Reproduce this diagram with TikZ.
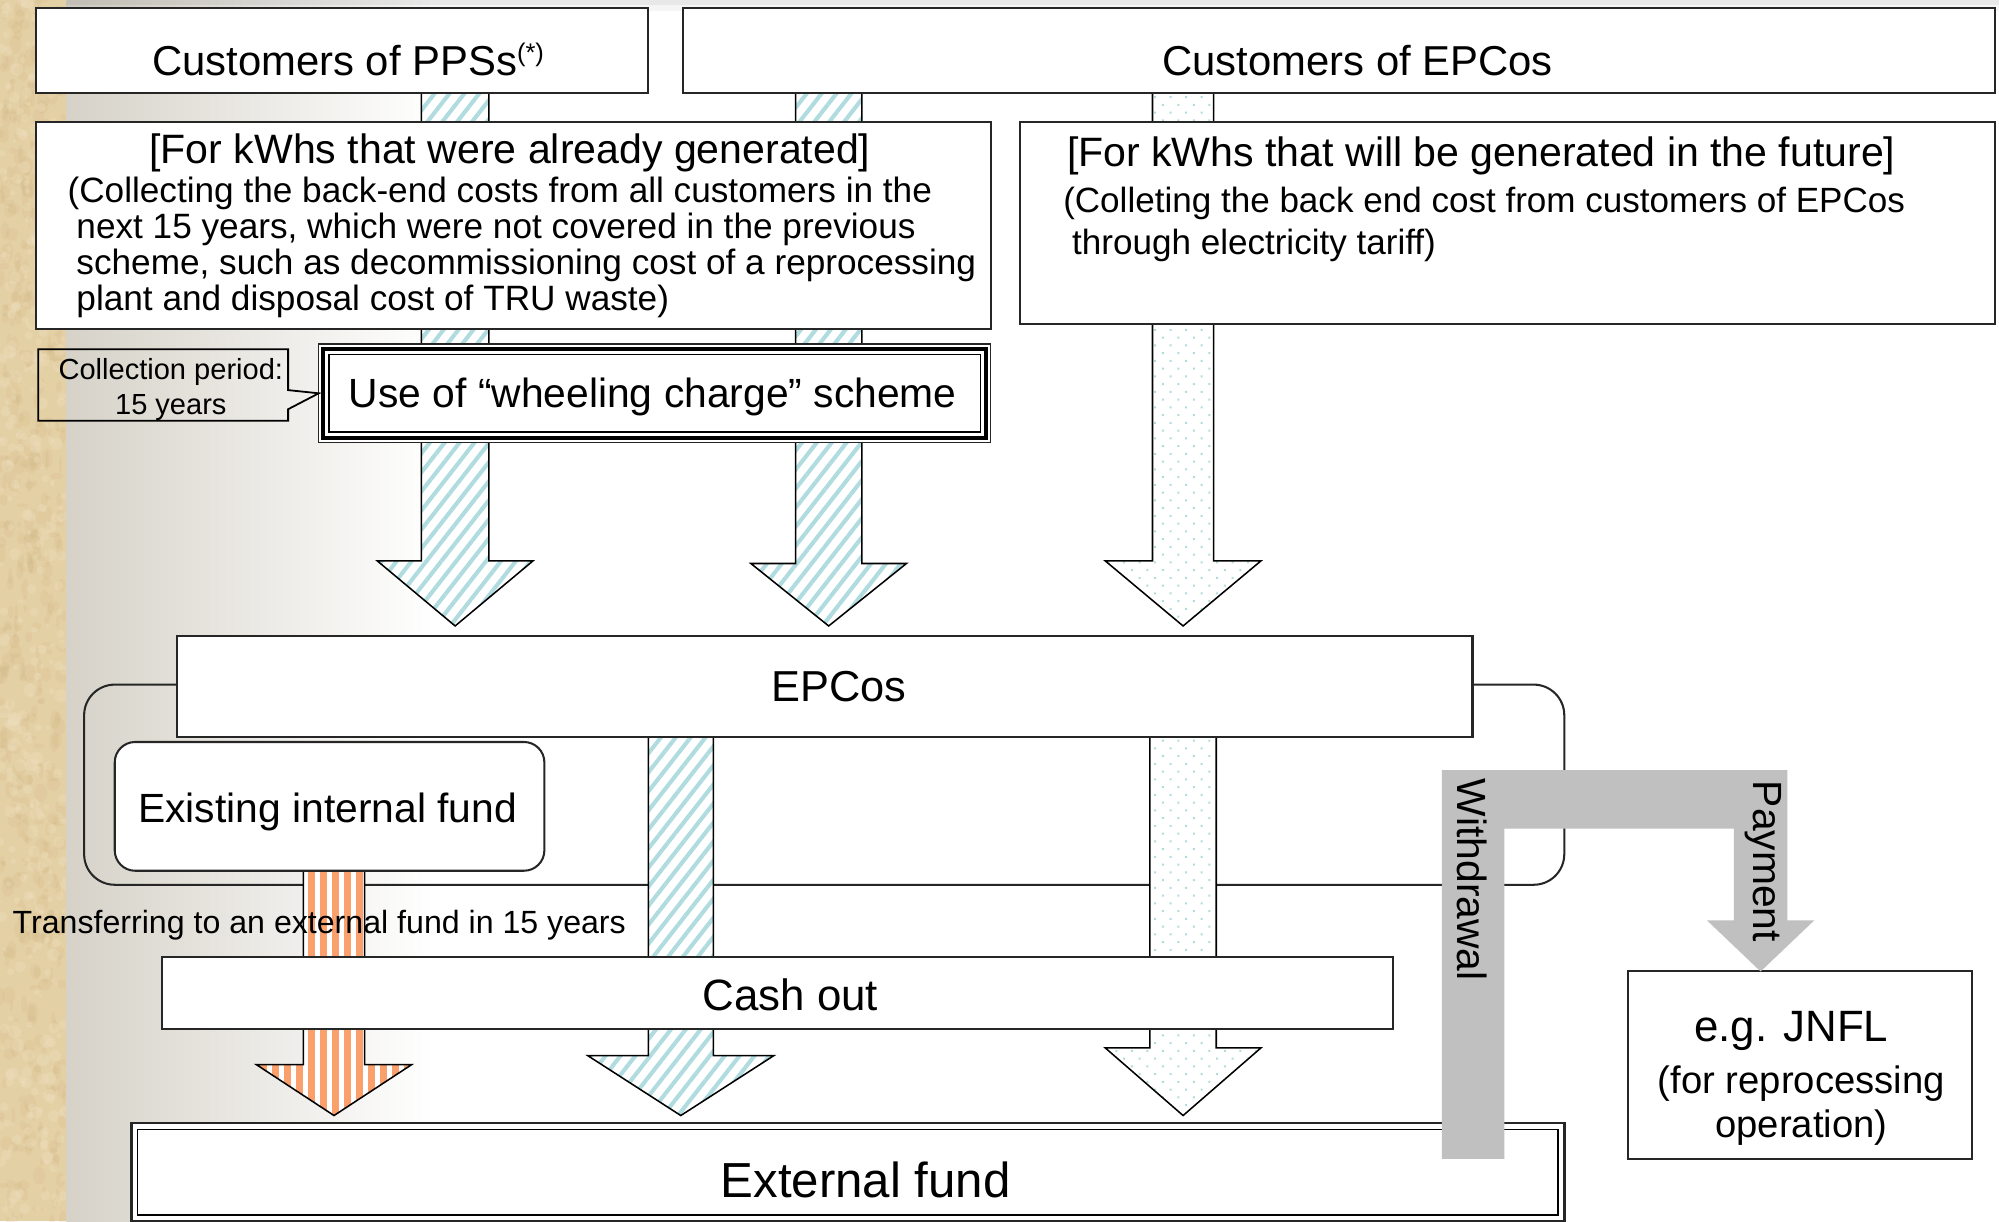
\documentclass[tikz,border=0pt]{standalone}
\usepackage{fontspec}
\setmainfont{Liberation Sans}
\usetikzlibrary{patterns.meta,fit,calc}

\definecolor{hatchblue}{RGB}{176,220,224}
\definecolor{fundorange}{RGB}{250,160,108}
\definecolor{flowgray}{RGB}{192,192,192}
\definecolor{parchment}{RGB}{228,208,165}
\definecolor{parchdark}{RGB}{206,180,130}
\definecolor{parchlight}{RGB}{240,226,194}
\definecolor{slidegray}{RGB}{214,210,200}

\newcommand{\fs}[2]{\fontsize{#1}{#2}\selectfont}

\pgfdeclarelayer{paper}
\pgfdeclarelayer{flows}
\pgfsetlayers{paper,flows,main}

% fat arrow: style, top point, tip, half shaft, half head, head length
\newcommand{\blockarrow}[6]{%
  \path[#1] let \p1=(#2), \p2=(#3) in
    (\x1-#4,\y1) -- (\x1+#4,\y1) -- (\x1+#4,\y2+#6) -- (\x1+#5,\y2+#6)
    -- (\x2,\y2) -- (\x1-#5,\y2+#6) -- (\x1-#4,\y2+#6) -- cycle;}

\tikzset{
  box/.style={draw=black!85, line width=0.8pt, fill=white, inner sep=0pt, outer sep=0pt},
  lbl/.style={inner sep=0pt, outer sep=0pt, text=black},
  hatchflow/.style={draw=black, line width=0.6pt, preaction={fill=white},
    pattern={Lines[angle=52,distance=4.6pt,line width=1.6pt]}, pattern color=hatchblue},
  dotflow/.style={draw=black, line width=0.6pt, preaction={fill=white},
    pattern={Dots[angle=45,distance=4.3pt,radius=0.55pt]}, pattern color=hatchblue},
  fundflow/.style={draw=black, line width=0.6pt, preaction={fill=white},
    pattern={Lines[angle=90,distance=4.7pt,line width=2.8pt]}, pattern color=fundorange},
}

\begin{document}
\begin{tikzpicture}[x=0.5pt,y=-0.5pt]
\useasboundingbox (0,0) rectangle (1568,958);

% slide background
\begin{pgfonlayer}{paper}
\fill[white] (0,0) rectangle (1568,958);
\fill[parchment] (0,0) rectangle (52,958);
\begin{scope}
  \clip (0,0) rectangle (52,958);
  \pgfmathsetseed{7}
  \foreach \i in {1,...,500}
    \fill[parchdark, opacity=.18] ({rnd*52},{rnd*958}) ellipse [x radius={0.6pt+rnd*2pt}, y radius={0.8pt+rnd*3pt}];
  \foreach \i in {1,...,400}
    \fill[parchlight, opacity=.3] ({rnd*52},{rnd*958}) circle [radius={0.6pt+rnd*2pt}];
\end{scope}
\shade[left color=slidegray, right color=white] (52,0) rectangle (340,958);
\fill[black, fill opacity=0.09] (52,0) rectangle (1568,4);
\fill[black, fill opacity=0.04] (52,4) rectangle (1568,9);
\end{pgfonlayer}

% boxes
\node[box, fit={(28,6) (508,73)}] (cppss) {};
\node[box, fit={(536,6) (1565,73)}] (cepco) {};
\node[box, fit={(28,96) (777,258)}] (past) {};
\node[box, fit={(800,96) (1565,254)}] (future) {};
\node[box, fit={(250,270) (777,347)}, line width=0.6pt] (wheel) {};
\draw[line width=1.6pt] ([shift={(3.5,3.5)}]wheel.north west) rectangle ([shift={(-3.5,-3.5)}]wheel.south east);
\draw[line width=0.6pt] ([shift={(8,8)}]wheel.north west) rectangle ([shift={(-8,-8)}]wheel.south east);
\draw[line width=0.7pt] (30,274) -- (226,274) -- (226,306) -- (wheel.west) -- (226,321) -- (226,330) -- (30,330) -- cycle;
\node[box, fit={(139,499) (1155,578)}] (epcos) {};
\node[box, rounded corners=8pt, fit={(90,582) (427,683)}] (intfund) {};
\node[box, fit={(127,751) (1093,807)}] (cashout) {};
\node[box, fit={(103,881) (1227,958)}, line width=1pt] (extfund) {};
\draw[line width=0.6pt] ([shift={(5,5)}]extfund.north west) rectangle ([shift={(-5,-5)}]extfund.south east);

% texts
\node[lbl, font=\fs{16.4}{19}, anchor=base] (cppss-t) at (273,59) {Customers of PPSs\raisebox{5.5pt}{\fs{10}{11}(*)}};
\node[lbl, font=\fs{16.4}{19}, anchor=base] (cepco-t) at (1065,59) {Customers of EPCos};
\node[lbl, font=\fs{16.1}{19}, anchor=base] (past-t) at (400,128) {[For kWhs that were already generated]};
\node[lbl, font=\fs{13.8}{14.15}, align=left, anchor=north west] (past-b) at (53,138.5)
  {(Collecting the back-end costs from all customers in the\\
   \hspace*{3.5pt}next 15 years, which were not covered in the previous\\
   \hspace*{3.5pt}scheme, such as decommissioning cost of a reprocessing\\
   \hspace*{3.5pt}plant and disposal cost of TRU waste)};
\node[lbl, font=\fs{16.1}{19}, anchor=base west] (future-t) at (837,130.5) {[For kWhs that will be generated in the future]};
\node[lbl, font=\fs{13.75}{16.5}, align=left, anchor=north west] (future-b) at (834,147)
  {(Colleting the back end cost from customers of EPCos\\
   \hspace*{3.5pt}through electricity tariff)};
\node[lbl, font=\fs{11.4}{13.75}, align=center, anchor=north] (period) at (134,281) {Collection period:\\15 years};
\node[lbl, font=\fs{16}{19}, anchor=base] (wheel-t) at (512,320) {Use of “wheeling charge” scheme};
\node[lbl, font=\fs{17}{20}, anchor=base] (epcos-t) at (658,550) {EPCos};
\node[lbl, font=\fs{16}{19}, anchor=base] (intfund-t) at (257,645.5) {Existing internal fund};
\node[lbl, font=\fs{17.2}{20}, anchor=base] (cashout-t) at (620,792.5) {Cash out};
\node[lbl, font=\fs{19.3}{22}, anchor=base] (extfund-t) at (679,939) {External fund};

% flows behind the boxes
\begin{pgfonlayer}{flows}
\draw[line width=0.8pt, black!85, rounded corners=12pt] (66,537) rectangle (1227,694);
\coordinate (f1top) at (357,0 |- cppss.south);
\coordinate (f1tip) at ($(357,0 |- epcos.north)+(0,-8)$);
\coordinate (f2top) at (650,0 |- cepco.south);
\coordinate (f2tip) at ($(650,0 |- epcos.north)+(0,-8)$);
\coordinate (f3top) at (928,0 |- cepco.south);
\coordinate (f3tip) at ($(928,0 |- epcos.north)+(0,-8)$);
\coordinate (f4top) at (262,0 |- intfund.south);
\coordinate (f4tip) at ($(262,0 |- extfund.north)+(0,-6)$);
\coordinate (f5top) at (534,0 |- epcos.south);
\coordinate (f5tip) at ($(534,0 |- extfund.north)+(0,-6)$);
\coordinate (f6top) at (928,0 |- epcos.south);
\coordinate (f6tip) at ($(928,0 |- extfund.north)+(0,-6)$);
\blockarrow{hatchflow}{f1top}{f1tip}{13.25pt}{30.5pt}{25.5pt}
\blockarrow{hatchflow}{f2top}{f2tip}{13pt}{30.5pt}{24.5pt}
\blockarrow{dotflow}{f3top}{f3tip}{12pt}{30.5pt}{25.5pt}
\blockarrow{fundflow}{f4top}{f4tip}{12pt}{30.5pt}{20pt}
\blockarrow{hatchflow}{f5top}{f5tip}{12.75pt}{36.5pt}{23.5pt}
\blockarrow{dotflow}{f6top}{f6tip}{13pt}{30.5pt}{26.5pt}
\end{pgfonlayer}

\node[lbl, font=\fs{12.6}{15}, anchor=base west] (transfer) at (10,732) {Transferring to an external fund in 15 years};

% withdrawal and payment
\node[box, fit={(1277,762) (1547,909)}] (jnfl) {};
\coordinate (paytip) at (1381,0 |- jnfl.north);
\fill[flowgray] (1131,604) -- (1402,604) -- (1402,722) -- (1423,722) -- (paytip)
  -- (1339,722) -- (1360,722) -- (1360,650) -- (1180,650) -- (1180,909) -- (1131,909) -- cycle;
\node[lbl, font=\fs{16}{19}, rotate=-90, anchor=west] (withdraw) at (1155,611) {Withdrawal};
\node[lbl, font=\fs{16}{19}, rotate=-90, anchor=west] (payment) at (1383,612.5) {Payment};
\node[lbl, font=\fs{17.2}{20}, anchor=base] (jnfl-t) at (1405,817) {e.g. JNFL};
\node[lbl, font=\fs{15}{17.25}, align=center, anchor=north] (jnfl-b) at (1413,836) {(for reprocessing\\operation)};
\end{tikzpicture}
\end{document}
